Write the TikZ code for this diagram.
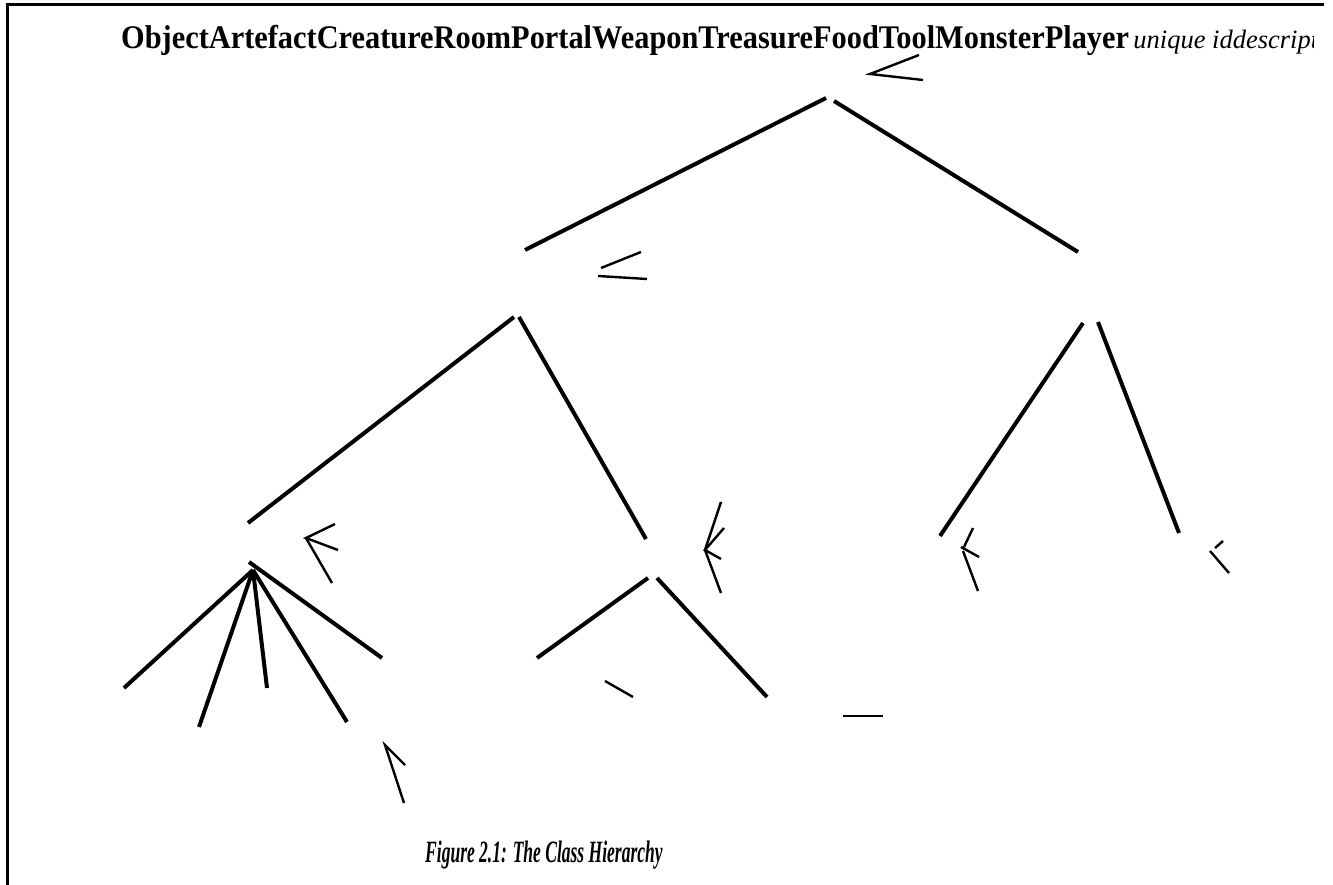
\documentclass[tikz,border=0pt]{standalone}
\usepackage{fontspec}
\setmainfont{Liberation Serif}
\begin{document}
\begin{tikzpicture}[x=1pt,y=-1pt,
  edge/.style={line width=4pt},
  tick/.style={line width=2.4pt},
  frame/.style={line width=3pt}]
\useasboundingbox (0,0) rectangle (1333,885);
% frame: top rule and left rule
\draw[frame] (1324,5) -- (7,5) -- (7,885);
% heading with class names, followed by the attribute names
\node[anchor=base west,inner sep=0pt] (names) at (121,49)
  {\scalebox{0.92}[1]{\fontsize{33}{33}\selectfont\bfseries ObjectArtefactCreatureRoomPortalWeaponTreasureFoodToolMonsterPlayer}};
\begin{scope}
  \clip (1000,0) rectangle (1313,120);
  \node[anchor=base west,inner sep=0pt] (attrs) at ([xshift=4pt]names.base east)
    {\fontsize{26.5}{26.5}\selectfont\itshape unique iddescription};
\end{scope}
% tree edges
\draw[edge] (826,98) -- (525,250);
\draw[edge] (834,101) -- (1078,252);
\draw[edge] (514,317) -- (248,523);
\draw[edge] (519,317) -- (646,539);
\draw[edge] (1083,323) -- (940,536);
\draw[edge] (1098,322) -- (1179,533);
\draw[edge] (249,562) -- (382,658);
\draw[edge] (253,570) -- (124,688);
\draw[edge] (253,570) -- (199,727);
\draw[edge] (253,570) -- (267,688);
\draw[edge] (253,570) -- (347,722);
\draw[edge] (648,578) -- (537,658);
\draw[edge] (657,578) -- (767,697);
% small strokes
\draw[tick] (919,55) -- (870,74) -- (923,80);
\draw[tick] (641,252) -- (601,268);
\draw[tick] (598,276) -- (647,279);
\draw[tick] (335,524) -- (306,538) -- (338,550);
\draw[tick] (306,538) -- (332,583);
\draw[tick] (405,765) -- (385,745) -- (404,803);
\draw[tick] (721,502) -- (705,550) -- (721,593);
\draw[tick] (724,528) -- (705,550) -- (721,559);
\draw[tick] (605,681) -- (633,697);
\draw[tick] (843,716) -- (883,716);
\draw[tick] (973,528) -- (964,547);
\draw[tick] (961,547) -- (979,557);
\draw[tick] (963,551) -- (978,591);
\draw[tick] (1223,541) -- (1215,548);
\draw[tick] (1210,551) -- (1229,573);
% caption
\node[anchor=base west,inner sep=0pt] (caption) at (425,862)
  {\scalebox{0.565}[1]{\fontsize{31}{31}\selectfont\bfseries\itshape Figure 2.1: The Class Hierarchy}};
\end{tikzpicture}
\end{document}
